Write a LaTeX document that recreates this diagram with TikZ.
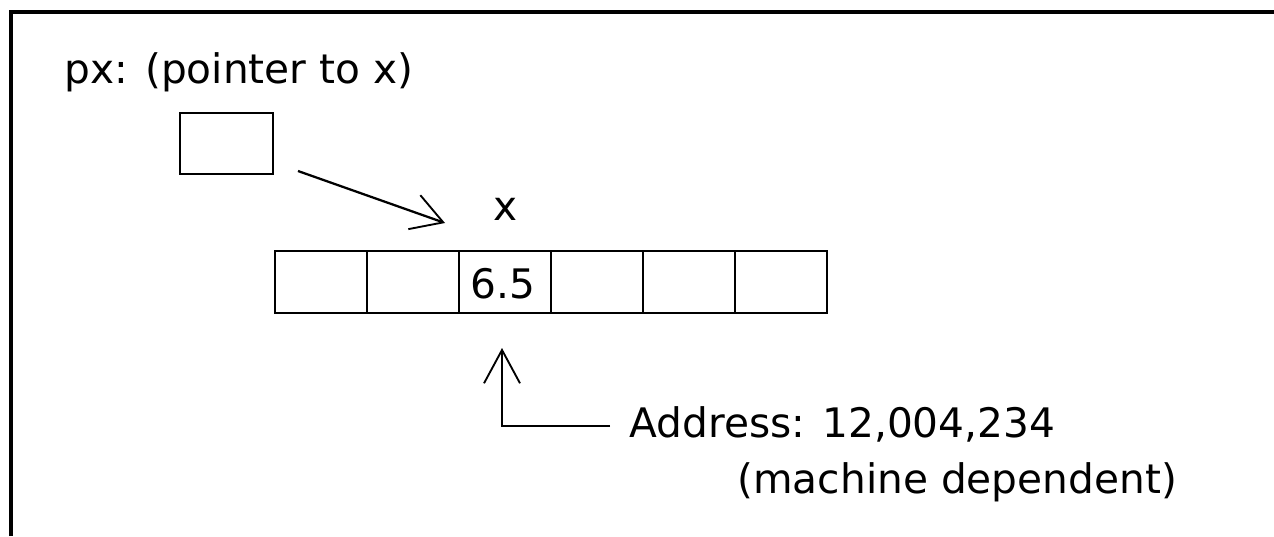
\documentclass[tikz,border=0pt]{standalone}
\usepackage{fontspec}
\setmainfont{DejaVu Sans}
\usetikzlibrary{arrows.meta}
\begin{document}
\begin{tikzpicture}[x=0.75pt,y=-0.75pt,
  line width=2.2pt,
  lbl/.style={font=\fontsize{30.5}{36}\selectfont, inner sep=0pt},
  cell/.style={draw, line width=2.2pt, minimum width=69pt, minimum height=46.5pt, inner sep=0pt, outer sep=0pt},
  ptrbox/.style={draw, line width=2.2pt, minimum width=69.75pt, minimum height=45.75pt, inner sep=0pt},
  barb/.style={-{Straight Barb[length=23pt,width=27pt,line width=1.4pt]}},
  upbarb/.style={-{Straight Barb[length=25pt,width=27pt,line width=1.4pt]}}
]
\useasboundingbox (0,0) rectangle (1274,536);
\fill[white] (0,0) rectangle (1274,536);
% frame
\draw[line width=2.3pt] (11,536) -- (11,12) -- (1274,12);
% labels
\node[lbl, anchor=base west] (pxlabel) at (63,83) {px: (pointer to x)};
\node[ptrbox] (pxbox) at (226.5,143.5) {};
\node[lbl, anchor=base] (xlabel) at (506,220) {x};
% array
\node[cell] (c1) at (321,282) {};
\node[cell] (c2) at (413,282) {};
\node[cell] (c3) at (505,282) {};
\node[cell] (c4) at (597,282) {};
\node[cell] (c5) at (689,282) {};
\node[cell] (c6) at (781,282) {};
\node[lbl, anchor=base] (val) at (503,298) {6.5};
% pointer arrow
\coordinate (ptrstart) at (298,171);
\coordinate (ptrend) at (445,223);
\draw[barb, line width=1.7pt] (ptrstart) -- (ptrend);
% address
\node[lbl, anchor=base west] (addr) at (628,437) {Address: 12,004,234};
\node[lbl, anchor=base west] (mach) at (736,493) {(machine dependent)};
\coordinate (addrline) at (610,426);
\coordinate (corner) at (502,426);
\coordinate (uptip) at (502,348);
\draw[upbarb] (addrline) -- (corner) -- (uptip);
\end{tikzpicture}
\end{document}
